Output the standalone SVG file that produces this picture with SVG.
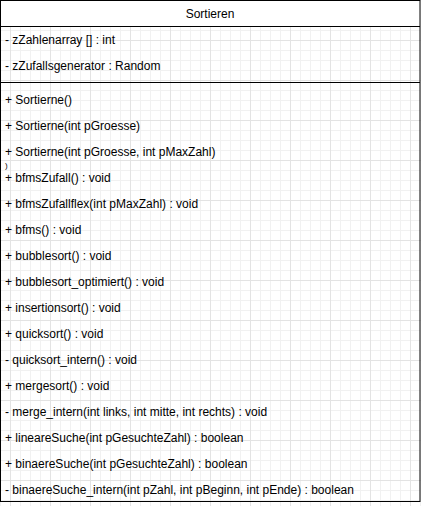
<svg xmlns="http://www.w3.org/2000/svg" width="421" height="506" viewBox="0 0 421 506">
  <style>
    .t { font-family: "Liberation Sans", Arial, Helvetica, sans-serif; font-size: 12px; fill: #000; }
    .box { fill: none; stroke: #000; stroke-width: 1; }
    .rule { stroke: #000; stroke-width: 1; }
  </style>
  <defs>
    <pattern id="grid" patternUnits="userSpaceOnUse" x="10" y="0" width="40" height="40">
      <path d="M10.5 0V40M20.5 0V40M30.5 0V40M0 10.5H40M0 20.5H40M0 30.5H40" stroke="#f1f1f1" stroke-width="1" fill="none"/>
      <path d="M0.5 0V40M0 0.5H40" stroke="#e3e3e3" stroke-width="1" fill="none"/>
    </pattern>
  </defs>

  <!-- canvas grid -->
  <rect x="0" y="0" width="421" height="506" fill="#fff"/>
  <rect x="0" y="0" width="421" height="506" fill="url(#grid)"/>

  <!-- class: Sortieren -->
  <g id="Sortieren">
    <rect x="0.5" y="0.5" width="419.5" height="26" fill="#fff"/>
    <rect class="box" x="0.5" y="0.5" width="419.5" height="501"/>
    <line class="rule" x1="0.5" y1="26.5" x2="420" y2="26.5"/>
    <text class="t" x="210" y="18" text-anchor="middle">Sortieren</text>

    <!-- attributes -->
    <text class="t" x="5" y="44">- zZahlenarray [] : int</text>
    <text class="t" x="5" y="70">- zZufallsgenerator : Random</text>

    <line class="rule" x1="0.5" y1="82.5" x2="420" y2="82.5"/>

    <!-- operations -->
    <text class="t" x="5" y="104">+ Sortierne()</text>
    <text class="t" x="5" y="130">+ Sortierne(int pGroesse)</text>
    <text class="t" x="5" y="156">+ Sortierne(int pGroesse, int pMaxZahl)</text>
    <text class="t" x="5" y="168" style="font-size:8px">)</text>
    <text class="t" x="5" y="182">+ bfmsZufall() : void</text>
    <text class="t" x="5" y="208">+ bfmsZufallflex(int pMaxZahl) : void</text>
    <text class="t" x="5" y="234">+ bfms() : void</text>
    <text class="t" x="5" y="260">+ bubblesort() : void</text>
    <text class="t" x="5" y="286">+ bubblesort_optimiert() : void</text>
    <text class="t" x="5" y="312">+ insertionsort() : void</text>
    <text class="t" x="5" y="338">+ quicksort() : void</text>
    <text class="t" x="5" y="364">- quicksort_intern() : void</text>
    <text class="t" x="5" y="390">+ mergesort() : void</text>
    <text class="t" x="5" y="416">- merge_intern(int links, int mitte, int rechts) : void</text>
    <text class="t" x="5" y="442">+ lineareSuche(int pGesuchteZahl) : boolean</text>
    <text class="t" x="5" y="468">+ binaereSuche(int pGesuchteZahl) : boolean</text>
    <text class="t" x="5" y="494">- binaereSuche_intern(int pZahl, int pBeginn, int pEnde) : boolean</text>
  </g>
</svg>
